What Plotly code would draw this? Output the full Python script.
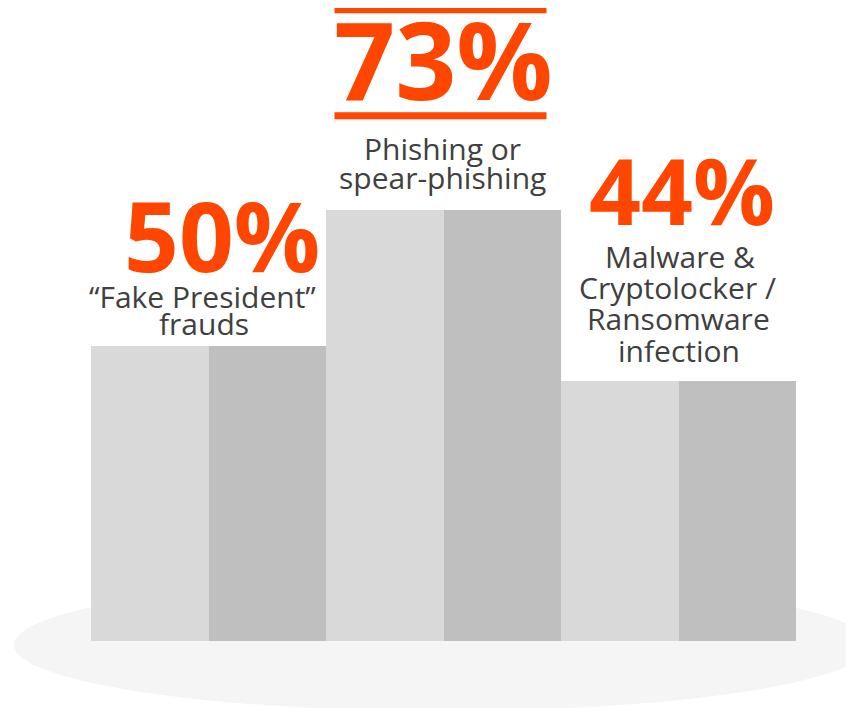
import plotly.graph_objects as go

# ---- data ----
categories = ["Fake President frauds", "Phishing or spear-phishing", "Malware & Ransomware"]
values = [50, 73, 44]
value_labels = ["50%", "73%", "44%"]
desc_lines = [
    ["\u201cFake President\u201d", "frauds"],
    ["Phishing or", "spear-phishing"],
    ["Malware &", "Cryptolocker /", "Ransomware", "infection"],
]

ORANGE = "#ff4600"
TEXT = "#404040"
LIGHT = "#d9d9d9"
DARK = "#bfbfbf"

fig = go.Figure()
fig.add_trace(go.Bar(x=categories, y=values, marker=dict(color=LIGHT, line=dict(width=0)),
                     hoverinfo="skip", showlegend=False))
fig.add_trace(go.Bar(x=categories, y=values, marker=dict(color=DARK, line=dict(width=0)),
                     hoverinfo="skip", showlegend=False))

# layout offsets (pixels, relative to each bar top)
big_font = [96, 107, 91]
big_shift = [(13, 112), (0, 152), (3, 191)]
line_shifts = [
    [(-6, 50), (-5, 23)],
    [(-1, 62), (-1, 33)],
    [(1, 125), (-1, 94), (0, 63), (0, 31)],
]

annotations = []
for i, cat in enumerate(categories):
    dx, dy = big_shift[i]
    annotations.append(dict(
        x=cat, y=values[i], xref="x", yref="y", text="<b>%s</b>" % value_labels[i],
        showarrow=False, xanchor="center", yanchor="middle", xshift=dx, yshift=dy,
        font=dict(family="Open Sans", size=big_font[i], color=ORANGE)))
    for line, (lx, ly) in zip(desc_lines[i], line_shifts[i]):
        annotations.append(dict(
            x=cat, y=values[i], xref="x", yref="y", text=line,
            showarrow=False, xanchor="center", yanchor="middle", xshift=lx, yshift=ly,
            font=dict(family="Open Sans", size=30, color=TEXT)))

shapes = [
    # soft floor ellipse
    dict(type="circle", xref="paper", yref="paper", x0=-0.103, x1=1.104, y0=-0.1106, y1=0.098,
         fillcolor="#f5f5f5", line=dict(width=0), layer="below"),
]
for (y0, y1) in [(197, 204), (91, 98)]:
    shapes.append(dict(type="rect", xref="x", yref="y", xsizemode="pixel", ysizemode="pixel",
                       xanchor=categories[1], yanchor=values[1], x0=-109, x1=103, y0=y0, y1=y1,
                       fillcolor=ORANGE, line=dict(width=0), layer="above"))

fig.update_layout(
    width=846, height=700,
    margin=dict(l=79, r=58, t=0, b=67),
    barmode="group", bargap=0, bargroupgap=0,
    paper_bgcolor="white", plot_bgcolor="rgba(0,0,0,0)",
    xaxis=dict(visible=False, type="category"),
    yaxis=dict(visible=False, range=[0, 107.3]),
    annotations=annotations, shapes=shapes,
    showlegend=False,
)

fig.write_html("out.html")
